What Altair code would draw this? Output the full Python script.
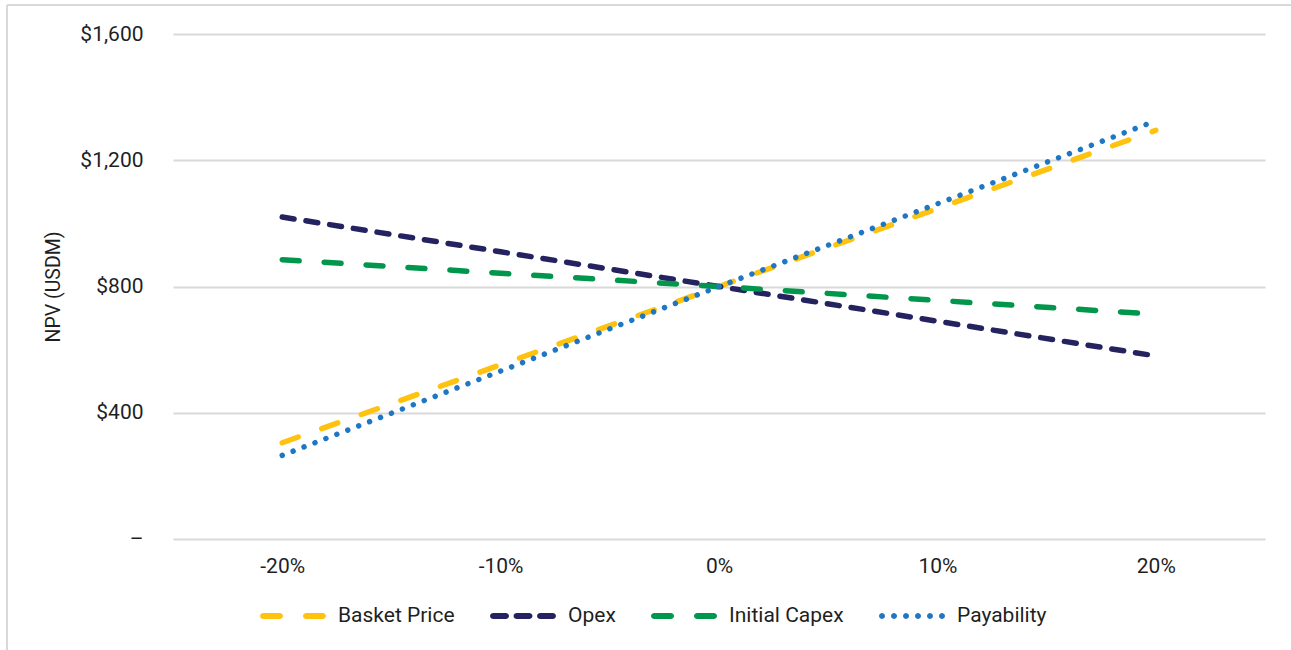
import math
import altair as alt
import pandas as pd

# ---- data ----
sensitivity = [-20, -10, 0, 10, 20]
basket_price = [305, 552, 800, 1047, 1295]
opex = [1020, 910, 800, 690, 580]
initial_capex = [885, 842, 800, 756, 712]
payability = [265, 532, 800, 1062, 1325]

series_names = ["Basket Price", "Opex", "Initial Capex", "Payability"]
series_values = [basket_price, opex, initial_capex, payability]
series_colors = ["#FFC20E", "#25235F", "#00964B", "#1F77C4"]
series_dash = [[17, 25], [12, 12], [17, 25], [0.01, 11.7]]
y_ticks = [0, 400, 800, 1200, 1600]

color_of = dict(zip(series_names, series_colors))
dash_of = dict(zip(series_names, series_dash))

rows = []
for name, vals in zip(series_names, series_values):
    for x, v in zip(sensitivity, vals):
        rows.append({"change": x, "npv": v, "series": name,
                     "line_color": color_of[name], "line_dash": dash_of[name]})
df = pd.DataFrame(rows)

FONT = "Roboto"
TXT = "#1f1f1f"

# legend symbol glyphs (normalized [-1,1] symbol space) mimicking each dash style
R = 0.091
def stadium(x0, x1, n=6):
    pts = []
    cr = x1 - R
    for i in range(n + 1):
        a = -math.pi / 2 + math.pi * i / n
        pts.append((cr + R * math.cos(a), R * math.sin(a)))
    cl = x0 + R
    for i in range(n + 1):
        a = math.pi / 2 + math.pi * i / n
        pts.append((cl + R * math.cos(a), R * math.sin(a)))
    return "M" + "L".join(f"{px:.4f},{py:.4f}" for px, py in pts) + "Z"

def dot(cx, n=12):
    pts = [(cx + R * math.cos(2 * math.pi * i / n), R * math.sin(2 * math.pi * i / n)) for i in range(n)]
    return "M" + "L".join(f"{px:.4f},{py:.4f}" for px, py in pts) + "Z"

long_dash = stadium(-1, -0.303) + stadium(0.303, 1)
short_dash = stadium(-1, -0.424) + stadium(-0.288, 0.288) + stadium(0.424, 1)
dots = "".join(dot(-0.909 + i * 0.3636) for i in range(6))
legend_shapes = [long_dash, short_dash, long_dash, dots]

lines = alt.Chart(df).mark_line(strokeWidth=5.5, strokeCap="round").encode(
    x=alt.X("change:Q",
            scale=alt.Scale(domain=[-25, 25], nice=False),
            axis=alt.Axis(values=sensitivity, labelExpr="datum.value + '%'",
                          grid=False, domain=False, ticks=False, title=None,
                          labelFontSize=21, labelFont=FONT, labelColor=TXT,
                          labelPadding=16)),
    y=alt.Y("npv:Q",
            scale=alt.Scale(domain=[0, 1600], nice=False),
            axis=alt.Axis(values=y_ticks,
                          labelExpr="datum.value == 0 ? '–' : '$' + format(datum.value, ',')",
                          grid=True, gridColor="#d9d9d9", gridWidth=2,
                          domain=False, ticks=False, labelPadding=30,
                          labelFontSize=21, labelFont=FONT, labelColor=TXT,
                          title="NPV (USDM)", titleFontSize=19.5, titleFont=FONT,
                          titleFontWeight="normal", titleColor=TXT, titlePadding=16)),
    detail="series:N",
    stroke=alt.Stroke("line_color:N", scale=None),
    strokeDash=alt.StrokeDash("line_dash", scale=None),
)

legend_kwargs = dict(
    orient="none", legendX=87, legendY=549, direction="horizontal",
    title=None, columns=4, symbolSize=4356, symbolOpacity=1,
    symbolStrokeWidth=0, labelOffset=12, columnPadding=35,
    labelFontSize=21, labelFont=FONT, labelColor=TXT, padding=0,
)

# points parked off-canvas (clipped) that only carry the legend
legend_carrier = alt.Chart(df).mark_point(filled=True, clip=True, size=10).encode(
    x=alt.value(-3000),
    y=alt.value(-3000),
    fill=alt.Fill("series:N", scale=alt.Scale(domain=series_names, range=series_colors),
                  legend=alt.Legend(**legend_kwargs)),
    shape=alt.Shape("series:N", scale=alt.Scale(domain=series_names, range=legend_shapes),
                    legend=alt.Legend(**legend_kwargs)),
)

border_df = pd.DataFrame({"k": [0]})
top_border = alt.Chart(border_df).mark_rule(color="#d9d9d9", strokeWidth=2).encode(
    x=alt.value(-166), x2=alt.value(1130), y=alt.value(-29))
left_border = alt.Chart(border_df).mark_rule(color="#d9d9d9", strokeWidth=2).encode(
    x=alt.value(-166), y=alt.value(-29), y2=alt.value(640))

chart = alt.layer(top_border, left_border, lines, legend_carrier).properties(
    width=1092, height=505,
    autosize=alt.AutoSizeParams(type="none"),
    padding={"left": 173, "top": 34, "right": 26, "bottom": 111},
    background="white",
).configure_view(stroke=None)

chart.save("out.html", embed_options={"renderer": "svg", "actions": False})
